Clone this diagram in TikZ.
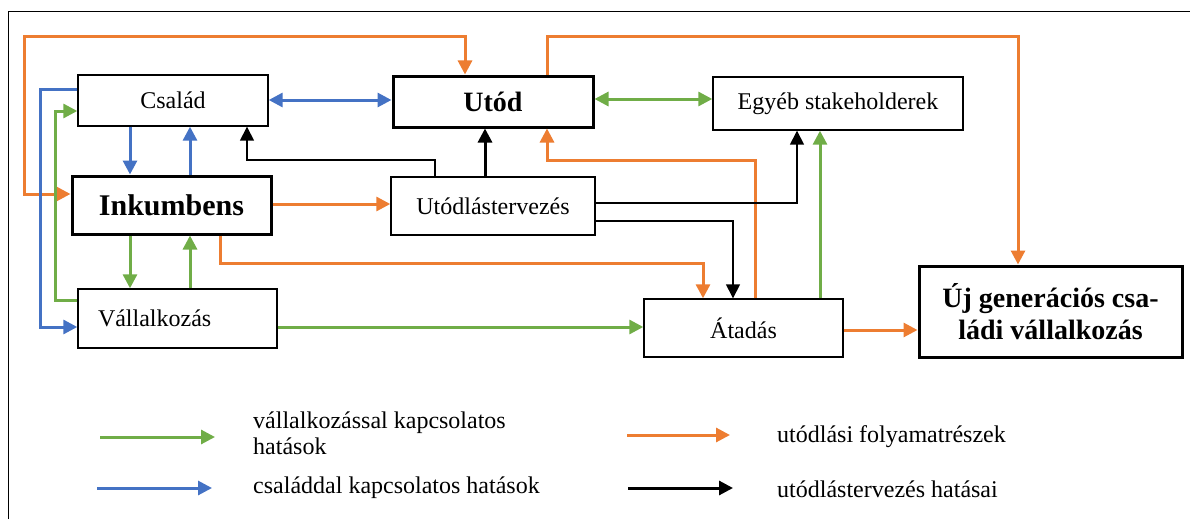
\documentclass[tikz,border=0pt]{standalone}
\usepackage{fontspec}
\setmainfont{Liberation Serif}
\usetikzlibrary{arrows.meta}
\definecolor{cor}{HTML}{ED7D31}
\definecolor{cbl}{HTML}{4472C4}
\definecolor{cgr}{HTML}{70AD47}
\begin{document}
\begin{tikzpicture}[x=1pt,y=-1pt,
  box/.style={draw, line width=1.4pt, inner sep=0pt, align=center, font=\fontsize{24}{28}\selectfont},
  bbox/.style={box, line width=3pt, font=\fontsize{28}{32}\selectfont\bfseries},
  tip/.style={-{Triangle[length=14pt,width=14pt]}},
  dtip/.style={{Triangle[length=14pt,width=14pt]}-{Triangle[length=14pt,width=14pt]}},
  orl/.style={draw=cor, line width=3pt, tip},
  bll/.style={draw=cbl, line width=3pt, tip},
  grl/.style={draw=cgr, line width=3pt, tip},
  bkl/.style={draw=black, line width=1.5pt, tip},
  legtext/.style={anchor=west, inner sep=0pt, align=left, font=\fontsize{24}{26}\selectfont}
]
\useasboundingbox (0,0) rectangle (1190,519);
\draw[line width=1pt] (8,519) -- (8,12) -- (1190,12);

% boxes
\node[box, minimum width=190pt, minimum height=51pt] (csalad) at (173,100.5) {Család};
\node[bbox, minimum width=199pt, minimum height=58pt, font=\fontsize{30}{32}\selectfont\bfseries] (ink) at (171.5,205) {Inkumbens};
\node[bbox, minimum width=200pt, minimum height=51pt] (utod) at (493,101.5) {Utód};
\node[box, minimum width=250pt, minimum height=53pt] (egyeb) at (838,103.5) {Egyéb stakeholderek};
\node[box, minimum width=204pt, minimum height=58pt] (ut) at (493,206) {Utódlástervezés};
\node[box, text width=159pt, align=left, inner xsep=20pt, minimum height=59pt] (vall) at (177.5,318.5) {Vállalkozás};
\node[box, minimum width=199pt, minimum height=58pt] (atadas) at (743.5,328) {Átadás};
\node[bbox, minimum width=263pt, minimum height=91pt] (uj) at (1050.5,311.5) {Új generációs csa-\\ládi vállalkozás};

% orange
\draw[orl, dtip] (ink.west |- 0,194) -- (24,194) -- (24,37) -- (465,37) -- (utod.north -| 465,0);
\draw[orl] (utod.north -| 547,0) -- (547,37) -- (1018,37) -- (uj.north -| 1018,0);
\draw[orl] (ink.east |- 0,204) -- (ut.west |- 0,204);
\draw[orl] (ink.south -| 220,0) -- (220,263) -- (703,263) -- (atadas.north -| 703,0);
\draw[orl] (atadas.north -| 755,0) -- (755,160) -- (547,160) -- (utod.south -| 547,0);
\draw[orl] (atadas.east |- 0,330) -- (uj.west |- 0,330);

% blue
\draw[bll, dtip] (csalad.east |- 0,100) -- (utod.west |- 0,100);
\draw[bll] (csalad.west |- 0,89) -- (40,89) -- (40,327) -- (vall.west |- 0,327);
\draw[bll] (csalad.south -| 130,0) -- (ink.north -| 130,0);
\draw[bll] (ink.north -| 190,0) -- (csalad.south -| 190,0);

% green
\draw[grl, dtip] (utod.east |- 0,99) -- (egyeb.west |- 0,99);
\draw[grl] (vall.west |- 0,300) -- (55,300) -- (55,111) -- (csalad.west |- 0,111);
\draw[grl] (ink.south -| 130,0) -- (vall.north -| 130,0);
\draw[grl] (vall.north -| 190,0) -- (ink.south -| 190,0);
\draw[grl] (vall.east |- 0,327) -- (atadas.west |- 0,327);
\draw[grl] (atadas.north -| 820,0) -- (egyeb.south -| 820,0);

% black
\draw[bkl] (ut.north -| 435,0) -- (435,160) -- (247,160) -- (csalad.south -| 247,0);
\draw[bkl, line width=3pt] (ut.north -| 485,0) -- (utod.south -| 485,0);
\draw[bkl] (ut.east |- 0,203) -- (797,203) -- (egyeb.south -| 797,0);
\draw[bkl] (ut.east |- 0,221) -- (733,221) -- (atadas.north -| 733,0);

% legend
\coordinate (lg1a) at (100,437); \coordinate (lg1b) at (215,437);
\coordinate (lg2a) at (97,488);  \coordinate (lg2b) at (212,488);
\coordinate (lg3a) at (627,435); \coordinate (lg3b) at (730,435);
\coordinate (lg4a) at (628,488); \coordinate (lg4b) at (733,488);
\draw[grl] (lg1a) -- (lg1b);
\draw[bll] (lg2a) -- (lg2b);
\draw[orl] (lg3a) -- (lg3b);
\draw[bkl, line width=3pt] (lg4a) -- (lg4b);
\node[legtext] (t1) at (253,433) {vállalkozással kapcsolatos\\hatások};
\node[legtext] (t2) at (253,488) {családdal kapcsolatos hatások};
\node[legtext] (t3) at (777,437) {utódlási folyamatrészek};
\node[legtext] (t4) at (777,489) {utódlástervezés hatásai};
\end{tikzpicture}
\end{document}
